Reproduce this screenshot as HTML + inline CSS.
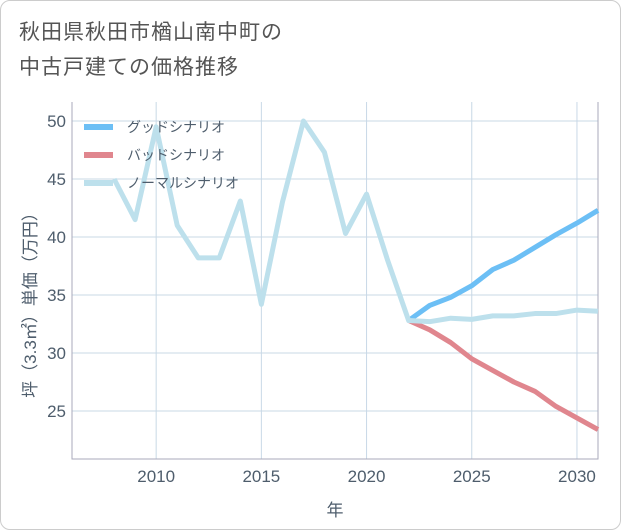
<!DOCTYPE html>
<html><head><meta charset="utf-8"><style>
body{margin:0;background:#fff;font-family:"Liberation Sans","Noto Sans CJK JP",sans-serif}
#wrap{position:relative;width:619px;height:528px;border:1px solid #ccc;border-radius:10px;overflow:hidden}
#title{position:absolute;left:18px;top:14px;font-size:21px;line-height:35px;color:#555;letter-spacing:1px}
svg{position:absolute;left:0;top:0}
</style></head><body>
<div id="wrap">
<div id="title">秋田県秋田市楢山南中町の<br>中古戸建ての価格推移</div>
<svg id="chart" width="621" height="530"></svg>
</div>
<script>
const years=[2008,2009,2010,2011,2012,2013,2014,2015,2016,2017,2018,2019,2020,2021,2022];
const history=[45,41.5,49.5,41,38.2,38.2,43.1,34.2,43,50,47.3,40.3,43.7,38,32.8];
const futureYears=[2022,2023,2024,2025,2026,2027,2028,2029,2030,2031];
const good=[32.8,34.1,34.8,35.8,37.2,38.0,39.1,40.2,41.2,42.3];
const bad=[32.8,32.0,30.9,29.5,28.5,27.5,26.7,25.4,24.4,23.4];
const normal=[32.8,32.7,33.0,32.9,33.2,33.2,33.4,33.4,33.7,33.6];
const xTicks=[2010,2015,2020,2025,2030];
const yTicks=[25,30,35,40,45,50];
const L=71,R=597,T=101,B=458;
const x=v=>L+(v-2006)*(R-L)/25;
const y=v=>410-(v-25)*11.6;
const svg=document.getElementById('chart');
const NS='http://www.w3.org/2000/svg';
const TC='#4e5d6c';
function mk(t,a){const e=document.createElementNS(NS,t);for(const k in a)e.setAttribute(k,a[k]);svg.appendChild(e);return e;}
xTicks.forEach(v=>{
 const l=mk('line',{x1:x(v),x2:x(v),y1:T,y2:B,stroke:'#c8d8e6','stroke-width':1});
 
 
 const t=mk('text',{x:x(v),y:481,'text-anchor':'middle','font-size':17,fill:TC});t.textContent=v;
 
 
});
yTicks.forEach(v=>{
 const l=mk('line',{x1:L,x2:R,y1:y(v),y2:y(v),stroke:'#c8d8e6','stroke-width':1});
 
 
 const t=mk('text',{x:65,y:y(v)+6,'text-anchor':'end','font-size':17,fill:TC});t.textContent=v;
 
 
});
const ax=mk('path',{d:`M${L} ${T}V${B}H${R}V${T}`,fill:'none',stroke:'#aab','stroke-width':1});


function line(xs,ys,c,n){const p=mk('polyline',{points:xs.map((v,i)=>x(v)+','+y(ys[i])).join(' '),fill:'none',stroke:c,'stroke-width':5,'stroke-linejoin':'round'});
 
 }
line(futureYears,good,'#6cbff5','good-scenario-line');
line(futureYears,bad,'#e0868e','bad-scenario-line');
line(years.concat(futureYears.slice(1)),history.concat(normal.slice(1)),'#bde0ec','normal-scenario-line');
const leg=[['グッドシナリオ','#6cbff5'],['バッドシナリオ','#e0868e'],['ノーマルシナリオ','#bde0ec']];
leg.forEach((d,i)=>{const yy=126+i*28;
 const s=mk('line',{x1:83,x2:112,y1:yy,y2:yy,stroke:d[1],'stroke-width':6});
 
 
 const t=mk('text',{x:126,y:yy+5,'font-size':14,fill:TC});t.textContent=d[0];
 
 
});
const xt=mk('text',{x:334,y:515,'text-anchor':'middle','font-size':17,fill:TC});xt.textContent='年';


const yt=mk('text',{x:0,y:0,'text-anchor':'middle','font-size':17,fill:TC,transform:'translate(35,300) rotate(-90)'});yt.textContent='坪（3.3㎡）単価（万円）';


</script>
</body></html>
